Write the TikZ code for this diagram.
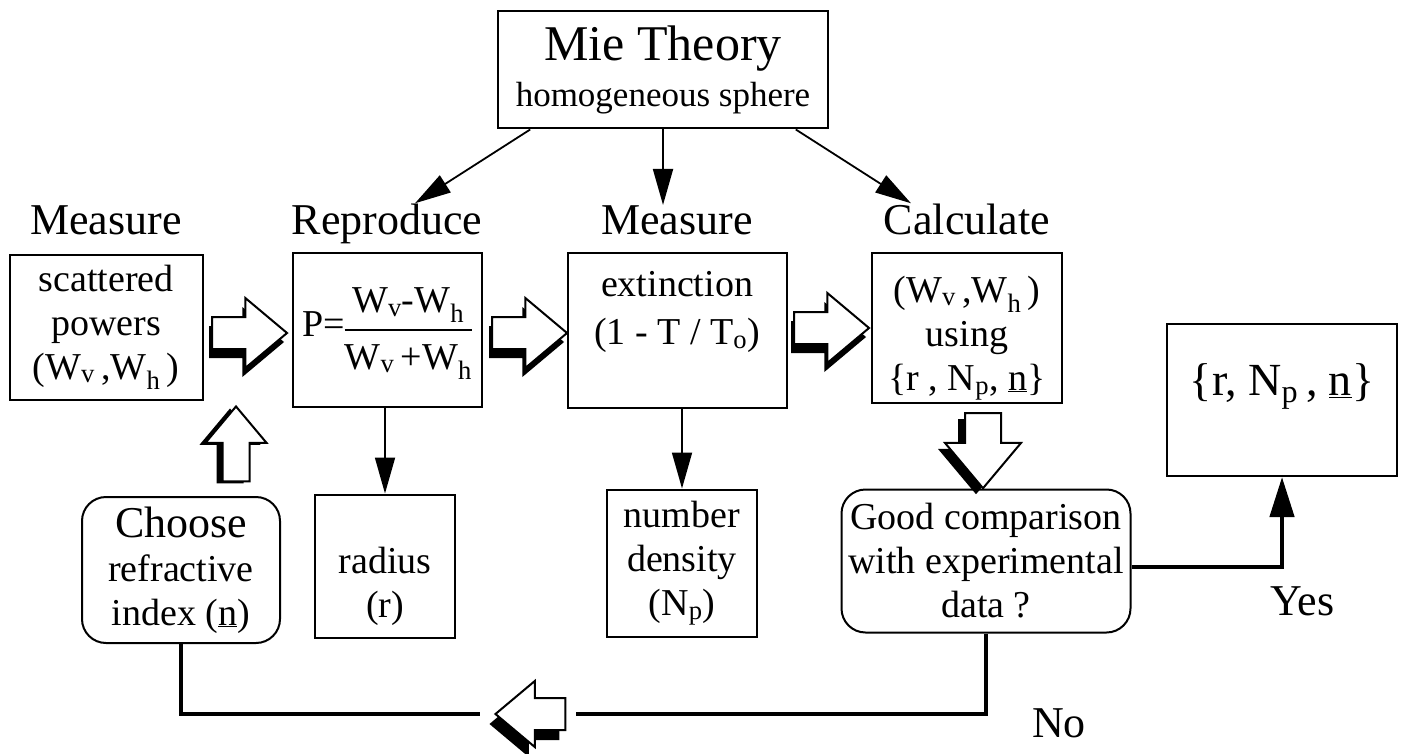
\documentclass[tikz,border=0pt]{standalone}
\usepackage{fontspec}
\setmainfont{Liberation Serif}
\usetikzlibrary{shapes.arrows, arrows.meta, calc, shadows}

\begin{document}
\begin{tikzpicture}[x=1pt, y=-1pt,
        box/.style={draw, line width=2pt, align=center, inner sep=0pt, font=\fontsize{38}{44}\selectfont},
        rbox/.style={box, rounded corners=24pt},
        header/.style={font=\fontsize{44}{48}\selectfont, anchor=base, inner sep=0pt},
        mieline/.style={line width=1.8pt, -{Triangle[length=36pt, width=20pt]}},
        thickline/.style={line width=4.5pt},
        hollow/.style 2 args={single arrow, draw, line width=2pt, fill=white, minimum height=75pt, inner sep=15pt, single arrow head extend=19pt, single arrow tip angle=80, drop shadow={shadow xshift=#1, shadow yshift=#2, fill=black, opacity=1}}
    ]
        \useasboundingbox (0,0) rectangle (1407,754);

        \node[box, minimum width=330pt, minimum height=117pt] (mie) at (663,70) {{\fontsize{50}{52}\selectfont Mie Theory}\\[2pt]{\fontsize{35}{40}\selectfont homogeneous sphere}};

        \node[header] (hd1) at (106,234) {Measure};
        \node[header] (hd2) at (387,234) {Reproduce};
        \node[header] (hd3) at (677,234) {Measure};
        \node[header] (hd4) at (967,234) {Calculate};

        \node[box, minimum width=193pt, minimum height=145pt] (scat) at (106,327) {scattered\\powers\\(W\textsubscript{v}\,,W\textsubscript{h}\,)};
        \node[box, minimum width=189pt, minimum height=154pt] (pol) at (387,330) {P={\setlength{\arrayrulewidth}{1.5pt}\renewcommand{\arraystretch}{1.25}\begin{tabular}{@{}c@{}}W\textsubscript{v}-W\textsubscript{h}\\\hline W\textsubscript{v}\,+W\textsubscript{h}\end{tabular}}};
        \node[box, minimum width=219pt, minimum height=155pt] (ext) at (677,330) {extinction\\[4pt](1 - T / T\textsubscript{o})\\\mbox{}};
        \node[box, minimum width=190pt, minimum height=150pt] (calcbox) at (967,328) {\mbox{}\\[2pt](W\textsubscript{v}\,,W\textsubscript{h}\,)\\using\\\{r , N\textsubscript{p}, \underline{n}\}};
        \node[box, minimum width=230pt, minimum height=152pt, font=\fontsize{46}{50}\selectfont] (res) at (1282,400) {\{r, N\textsubscript{p}\,, \underline{n}\}\\[-10pt]\mbox{}};

        \node[box, minimum width=140pt, minimum height=143pt] (rad) at (385,566) {\mbox{}\\[24pt]radius\\(r)};
        \node[box, minimum width=150pt, minimum height=147pt] (dens) at (682,563) {number\\density\\(N\textsubscript{p})};
        \node[rbox, minimum width=198pt, minimum height=146pt] (choose) at (181,570) {{\fontsize{44}{46}\selectfont Choose}\\refractive\\index (\underline{n})};
        \node[rbox, minimum width=289pt, minimum height=143pt] (good) at (986,561) {Good comparison\\with experimental\\data ?};

        \node[hollow={-3pt}{-9pt}] (h1) at (240,333) {};
        \node[hollow={-3pt}{-9pt}] (h2) at (520,333) {};
        \node[hollow={-3pt}{-9pt}] (h3) at (822,328) {};
        \node[hollow={-7pt}{-6pt}, shape border rotate=270, inner sep=17pt, single arrow head extend=20pt] (hdown) at (983,440) {};
        \node[hollow={-6pt}{-2pt}, shape border rotate=90, inner sep=12.5pt, single arrow head extend=17pt] (hup) at (236,452) {};
        \node[hollow={-6pt}{-10pt}, shape border rotate=180, minimum height=70pt, single arrow head extend=17pt] (back) at (540,714) {};

        \draw[mieline] (mie.south) -- (mie.south |- hd3.north);
        \draw[mieline] ($(mie.south west)!0.1!(mie.south east)$) -- ([xshift=28pt]hd2.north);
        \draw[mieline] ($(mie.south east)!0.1!(mie.south west)$) -- ([xshift=-56pt]hd4.north);
        \draw[mieline] (rad.north |- pol.south) -- (rad.north);
        \draw[mieline] (dens.north |- ext.south) -- (dens.north);

        \draw[thickline, -{Triangle[length=40pt, width=24pt]}] ([yshift=-6pt]good.east) -| (res.south);
        \draw[thickline] (good.south) |- ([xshift=10pt]back.tail);
        \draw[thickline] ([xshift=-14pt]back.tip) -| (choose.south);

        \node[header, anchor=base west] (yes) at (1270,615) {Yes};
        \node[header, anchor=base west] (no) at (1032,737) {No};
    \end{tikzpicture}
\end{document}
